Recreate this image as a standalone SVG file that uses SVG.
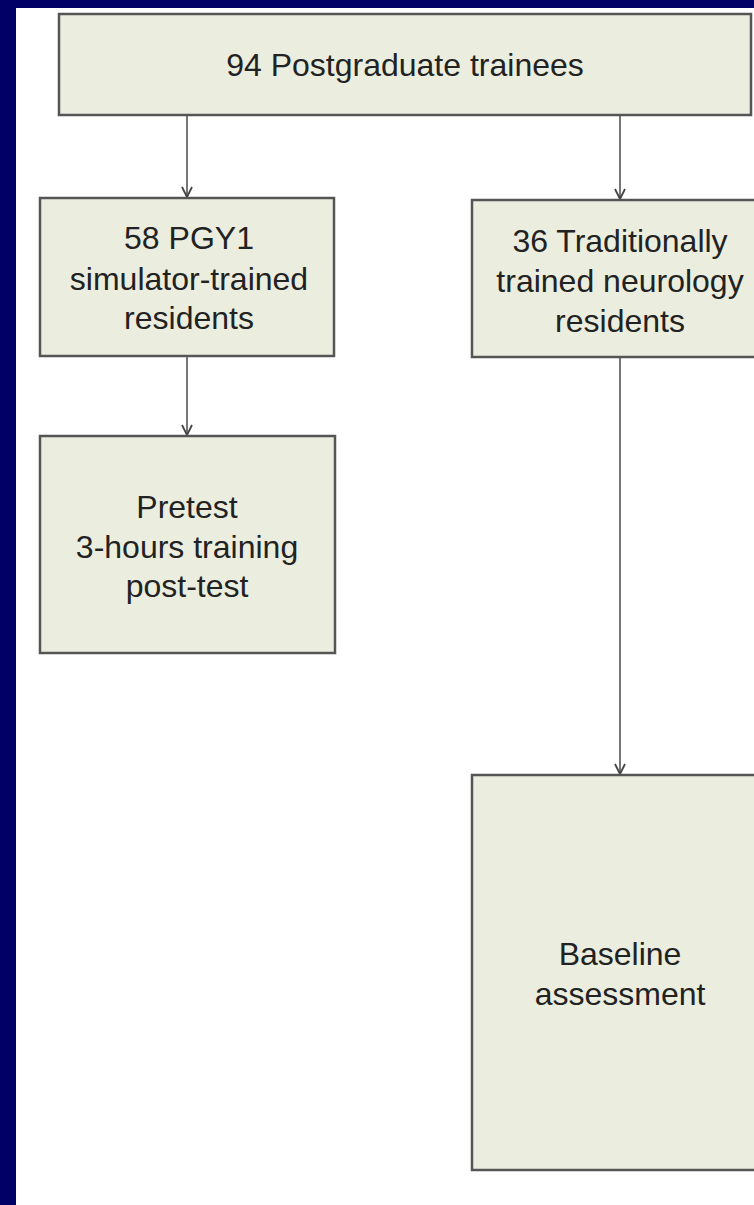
<svg xmlns="http://www.w3.org/2000/svg" width="754" height="1205" viewBox="0 0 754 1205">
<defs>
<style>
.box{fill:#ebeedf;stroke:#555555;stroke-width:2.5}
.lbl{font-family:"Liberation Sans",Arial,sans-serif;font-size:32px;fill:#222222;text-anchor:middle}
.conn{stroke:#555555;stroke-width:1.6;fill:none}
</style>
<marker id="arr" viewBox="0 0 12 12" refX="11" refY="6" markerWidth="12" markerHeight="12" markerUnits="userSpaceOnUse" orient="auto">
<path d="M1,1 L11,6 L1,11" fill="none" stroke="#444444" stroke-width="1.8"/>
</marker>
</defs>
<rect x="0" y="0" width="754" height="1205" fill="#ffffff"/>
<rect x="0" y="0" width="754" height="8" fill="#000066"/>
<rect x="0" y="0" width="16" height="1205" fill="#000066"/>
<g id="connectors">
<line class="conn" x1="187" y1="116" x2="187" y2="197" marker-end="url(#arr)"/>
<line class="conn" x1="620" y1="116" x2="620" y2="199" marker-end="url(#arr)"/>
<line class="conn" x1="187" y1="357" x2="187" y2="435" marker-end="url(#arr)"/>
<line class="conn" x1="620" y1="358" x2="620" y2="774" marker-end="url(#arr)"/>
</g>
<g id="node-top">
<rect class="box" x="59" y="14" width="692" height="101"/>
<text class="lbl" x="405" y="76">94 Postgraduate trainees</text>
</g>
<g id="node-pgy1">
<rect class="box" x="40" y="198" width="294" height="158"/>
<text class="lbl" x="189" y="249">58 PGY1</text>
<text class="lbl" x="189" y="290">simulator-trained</text>
<text class="lbl" x="189" y="329">residents</text>
</g>
<g id="node-neuro">
<rect class="box" x="472" y="200" width="300" height="157"/>
<text class="lbl" x="620" y="252">36 Traditionally</text>
<text class="lbl" x="620" y="292">trained neurology</text>
<text class="lbl" x="620" y="332">residents</text>
</g>
<g id="node-pretest">
<rect class="box" x="40" y="436" width="295" height="217"/>
<text class="lbl" x="187" y="518">Pretest</text>
<text class="lbl" x="187" y="558">3-hours training</text>
<text class="lbl" x="187" y="597">post-test</text>
</g>
<g id="node-baseline">
<rect class="box" x="472" y="775" width="300" height="395"/>
<text class="lbl" x="620" y="965">Baseline</text>
<text class="lbl" x="620" y="1005">assessment</text>
</g>
</svg>
